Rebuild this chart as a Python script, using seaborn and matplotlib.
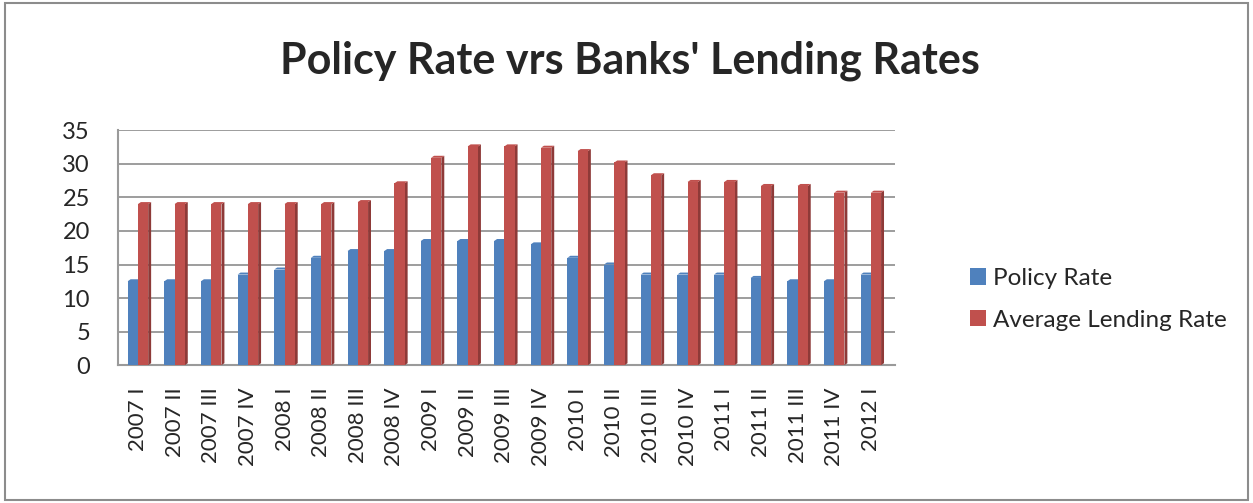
import matplotlib
matplotlib.use("Agg")
import matplotlib.pyplot as plt
import seaborn as sns
import pandas as pd
from matplotlib.patches import Rectangle, Polygon, Patch

quarters = ["2007 I", "2007 II", "2007 III", "2007 IV", "2008 I", "2008 II", "2008 III",
            "2008 IV", "2009 I", "2009 II", "2009 III", "2009 IV", "2010 I", "2010 II",
            "2010 III", "2010 IV", "2011 I", "2011 II", "2011 III", "2011 IV", "2012 I"]
policy_rate = [12.5, 12.5, 12.5, 13.5, 14.25, 16, 17, 17, 18.5, 18.5, 18.5, 18, 16, 15,
               13.5, 13.5, 13.5, 13, 12.5, 12.5, 13.5]
lending_rate = [24.0, 24.0, 24.0, 24.0, 24.0, 24.0, 24.3, 27.1, 30.9, 32.6, 32.6, 32.4,
                31.9, 30.2, 28.3, 27.3, 27.3, 26.7, 26.7, 25.7, 25.7]
series_names = ["Policy Rate", "Average Lending Rate"]
colors = ["#4F81BD", "#C0504D"]
side_colors = ["#3A6394", "#8E3A38"]

df = pd.DataFrame({
    "Quarter": quarters * 2,
    "Rate": policy_rate + lending_rate,
    "Series": [series_names[0]] * len(quarters) + [series_names[1]] * len(quarters),
})

sns.set_theme(style="white")
plt.rcParams["font.family"] = ["Lato", "DejaVu Sans"]

fig = plt.figure(figsize=(12.53, 5.03), dpi=100)
ax = fig.add_axes([0.094, 0.274, 0.62, 0.467])

sns.barplot(data=df, x="Quarter", y="Rate", hue="Series", palette=colors,
            width=0.56, ax=ax, legend=False, saturation=1, zorder=3,
            linewidth=0, edgecolor="none")

# pseudo-3D side and top faces, derived from the drawn bar patches
dx, dy = 0.08, 0.3
for i, p in enumerate(list(ax.patches)):
    si = 0 if i < len(quarters) else 1
    x0, y0 = p.get_x(), p.get_y()
    w, h = p.get_width(), p.get_height()
    side = Polygon([(x0 + w, y0), (x0 + w + dx, y0 + dy), (x0 + w + dx, y0 + h + dy), (x0 + w, y0 + h)],
                   closed=True, facecolor=side_colors[si], edgecolor="none", zorder=2.9)
    top = Polygon([(x0, y0 + h), (x0 + dx, y0 + h + dy), (x0 + w + dx, y0 + h + dy), (x0 + w, y0 + h)],
                  closed=True, facecolor=colors[si], edgecolor="none", zorder=2.9)
    ax.add_patch(side)
    ax.add_patch(top)

ax.set_ylim(0, 35)
ax.set_xlim(-0.55, len(quarters) - 0.35)
ax.set_yticks(range(0, 36, 5))
ax.yaxis.grid(True, color="#8C8C8C", linewidth=1.2, zorder=0)
ax.set_xlabel("")
ax.set_ylabel("")
ax.tick_params(axis="y", labelsize=17, length=0, pad=20)
ax.tick_params(axis="x", labelsize=16, length=0, pad=16)
for lab in ax.get_xticklabels():
    lab.set_rotation(90)
for s in ["top", "right"]:
    ax.spines[s].set_visible(False)
for s in ["left", "bottom"]:
    ax.spines[s].set_color("#9A9A9A")
    ax.spines[s].set_linewidth(1.5)

fig.text(0.503, 0.88, "Policy Rate vrs Banks' Lending Rates", ha="center", va="center",
         fontsize=31, fontweight="bold")

handles = [Patch(facecolor=c, edgecolor="none") for c in colors]
fig.legend(handles, series_names, loc="center left", bbox_to_anchor=(0.757, 0.405),
           frameon=False, fontsize=17.5, handlelength=0.65, handleheight=0.65,
           handletextpad=0.3, labelspacing=0.85)

fig.patches.append(Rectangle((0.004, 0.006), 0.992, 0.988, transform=fig.transFigure,
                             fill=False, edgecolor="#8C8C8C", linewidth=1.5))

fig.savefig("out.png", dpi=100)
